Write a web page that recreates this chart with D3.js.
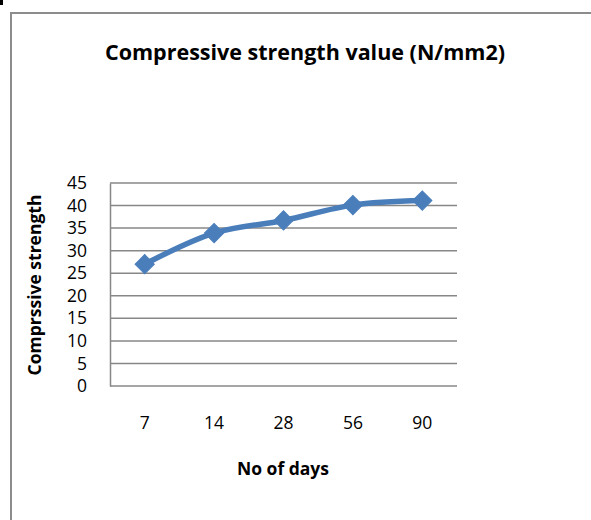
<!DOCTYPE html>
<html>
<head>
<meta charset="utf-8">
<script src="https://cdn.jsdelivr.net/npm/d3@7"></script>
<style>
  body { margin: 0; background: #fff; }
  svg { display: block; font-family: "Open Sans", sans-serif; }
</style>
</head>
<body>
<svg width="591" height="520"></svg>
<script>
// chart data
const days = ["7", "14", "28", "56", "90"];
const strength = [27.0, 33.9, 36.7, 40.1, 41.1];
const yTicks = [0, 5, 10, 15, 20, 25, 30, 35, 40, 45];

const svg = d3.select("svg");
const plot = {left: 110, right: 457, top: 183, bottom: 386};

// outer frame
svg.append("rect")
    .attr("x", 11).attr("y", 13)
    .attr("width", 600).attr("height", 520)
    .attr("fill", "none")
    .attr("stroke", "#8c8c8c")
    .attr("stroke-width", 2);
svg.append("rect").attr("x", 0).attr("y", 0).attr("width", 3).attr("height", 5).attr("fill", "#000");

let x = d3.scaleBand().domain(days).range([plot.left, plot.right]);
let y = d3.scaleLinear().domain([0, 45]).range([plot.bottom, plot.top]);

// grid lines
svg.append("g").selectAll("line")
    .data(yTicks)
    .join("line")
    .attr("x1", plot.left).attr("x2", plot.right)
    .attr("y1", d => y(d)).attr("y2", d => y(d))
    .attr("stroke", "#878787")
    .attr("stroke-width", 1.5);

// y axis
let yAxis = svg.append("g")
    .attr("transform", "translate(" + plot.left + ",0)")
    .call(d3.axisLeft(y).tickValues(yTicks).tickSize(0).tickPadding(23))
    .attr("font-family", "Open Sans, sans-serif");
yAxis.select(".domain").attr("stroke", "#878787").attr("stroke-width", 1.5);
yAxis.selectAll("text").attr("font-size", 17.5).attr("fill", "#000");

// x axis
let xAxis = svg.append("g")
    .attr("transform", "translate(0," + plot.bottom + ")")
    .call(d3.axisBottom(x).tickSize(0).tickPadding(31))
    .attr("font-family", "Open Sans, sans-serif");
xAxis.select(".domain").remove();
xAxis.selectAll("text").attr("font-size", 17.5).attr("fill", "#000");

// line
let line = d3.line()
    .x((d, i) => x(days[i]) + x.bandwidth() / 2)
    .y(d => y(d))
    .curve(d3.curveCatmullRom.alpha(0.5));

svg.append("path")
    .datum(strength)
    .attr("d", line)
    .attr("fill", "none")
    .attr("stroke", "#4a7ebb")
    .attr("stroke-width", 5.5)
    .attr("stroke-linejoin", "round");

svg.append("g").selectAll("path")
    .data(strength)
    .join("path")
    .attr("d", d3.symbol(d3.symbolSquare, 185))
    .attr("transform", (d, i) => "translate(" + (x(days[i]) + x.bandwidth() / 2) + "," + y(d) + ") rotate(45)")
    .attr("fill", "#4a7ebb")
    .attr("stroke", "#4a7ebb")
    .attr("stroke-width", 1);

// titles
svg.append("text")
    .attr("x", 305).attr("y", 60)
    .attr("text-anchor", "middle")
    .attr("font-size", 21.5)
    .attr("font-weight", "bold")
    .text("Compressive strength value (N/mm2)");

svg.append("text")
    .attr("x", 283).attr("y", 475)
    .attr("text-anchor", "middle")
    .attr("font-size", 17.5)
    .attr("font-weight", "bold")
    .text("No of days");

svg.append("text")
    .attr("transform", "translate(41,285) rotate(-90)")
    .attr("text-anchor", "middle")
    .attr("font-size", 17.5)
    .attr("font-weight", "bold")
    .text("Comprssive strength");
</script>
</body>
</html>
